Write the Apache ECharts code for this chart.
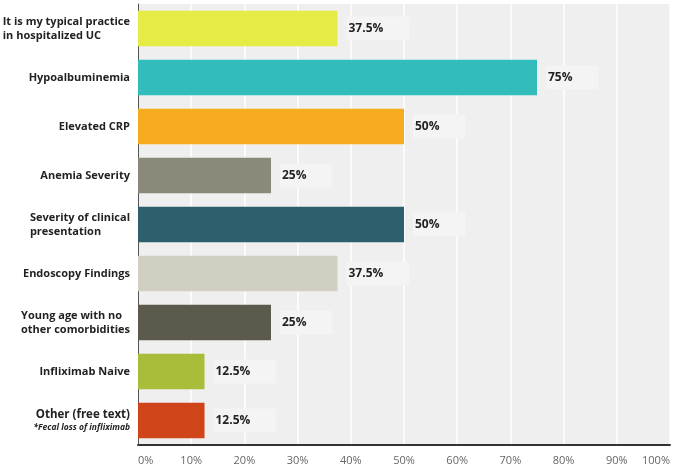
<!DOCTYPE html>
<html>
<head>
<meta charset="utf-8">
<script src="https://cdn.jsdelivr.net/npm/echarts@6/dist/echarts.min.js"></script>
<style>
html,body{margin:0;padding:0;background:#fff;}
#c{width:675px;height:469px;}
</style>
</head>
<body>
<div id="c"></div>
<script>
var categories = [
  "It is my typical practice\nin hospitalized UC",
  "Hypoalbuminemia",
  "Elevated CRP",
  "Anemia Severity",
  "Severity of clinical\npresentation",
  "Endoscopy Findings",
  "Young age with no\nother comorbidities",
  "Infliximab Naive",
  "Other (free text)"
];
var otherNote = "*Fecal loss of infliximab";
var values = [37.5, 75, 50, 25, 50, 37.5, 25, 12.5, 12.5];
var barColors = ["#e6ec45", "#33bcbc", "#f7ac1f", "#8b8a7a", "#2e5f6d", "#d0cfc2", "#5b5a4d", "#aabd3a", "#cf4519"];
var xTicks = [0, 10, 20, 30, 40, 50, 60, 70, 80, 90, 100];

var chart = echarts.init(document.getElementById('c'));
chart.setOption({
  animation: false,
  backgroundColor: '#ffffff',
  grid: {
    left: 138, right: 5, top: 4, bottom: 24,
    outerBoundsMode: 'none', containLabel: false,
    show: true, backgroundColor: '#efefef', borderWidth: 0
  },
  xAxis: {
    type: 'value', min: xTicks[0], max: xTicks[xTicks.length - 1], interval: 10,
    axisLine: {show: true, onZero: false, lineStyle: {color: '#333', width: 2}},
    axisTick: {show: false},
    splitLine: {show: true, lineStyle: {color: '#ffffff', width: 1.5}},
    axisLabel: {
      formatter: '{value}%', color: '#666', fontFamily: 'Open Sans', fontSize: 11,
      margin: 10, alignMinLabel: 'left', alignMaxLabel: 'right'
    }
  },
  yAxis: {
    type: 'category', inverse: true, data: categories,
    axisLine: {show: true, lineStyle: {color: '#555', width: 1}},
    axisTick: {show: false},
    axisLabel: {
      margin: 8, color: '#222', fontFamily: 'Open Sans', fontWeight: 'bold', fontSize: 11,
      lineHeight: 14, align: 'right',
      formatter: function (v) {
        if (v === categories[categories.length - 1]) {
          return '{r|' + v + '}\n{n|' + otherNote + '}';
        }
        var lines = v.split('\n');
        if (lines.length > 1) {
          return lines.map(function (s) { return '{l|' + s + '}'; }).join('\n');
        }
        return v;
      },
      rich: {
        l: {fontSize: 11, fontWeight: 'bold', fontFamily: 'Open Sans', color: '#222', lineHeight: 14, align: 'left'},
        r: {fontSize: 11.5, fontWeight: 'bold', fontFamily: 'Open Sans', color: '#222', lineHeight: 15, align: 'right', padding: [2, 0, 0, 0]},
        n: {fontSize: 8.5, fontStyle: 'italic', fontWeight: 'bold', fontFamily: 'Open Sans', color: '#222', lineHeight: 13, align: 'right'}
      }
    }
  },
  series: [{
    type: 'bar',
    data: values.map(function (v, i) { return {value: v, itemStyle: {color: barColors[i]}}; }),
    barCategoryGap: '28%',
    label: {
      show: true, position: 'right', distance: 9,
      formatter: '{c}%',
      color: '#222', fontFamily: 'Open Sans', fontWeight: 'bold', fontSize: 12,
      backgroundColor: '#f4f4f4', padding: [6, 26, 6, 2]
    }
  }]
});
</script>
</body>
</html>
